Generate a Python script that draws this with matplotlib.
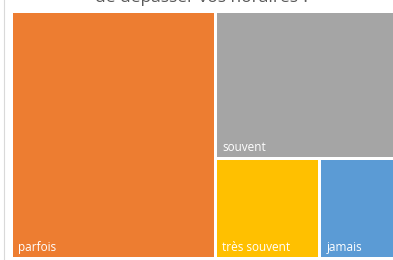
import matplotlib
matplotlib.use("Agg")
from matplotlib import pyplot as plt
from matplotlib.patches import Rectangle
from matplotlib.lines import Line2D

# Data
categories = ["parfois", "souvent", "très souvent", "jamais"]
values = [48, 25, 10, 7]
colors = ["#ED7D31", "#A5A5A5", "#FFC000", "#5B9BD5"]
title = "de dépasser vos horaires ?"


def worst(row, side):
    s = sum(row)
    return max(max(side * side * r / (s * s), (s * s) / (side * side * r)) for r in row)


def squarify(vals, x, y, w, h):
    # vals already scaled to area units
    rects = []
    vals = list(vals)
    while vals:
        side = min(w, h)
        row = [vals.pop(0)]
        while vals and worst(row + [vals[0]], side) <= worst(row, side):
            row.append(vals.pop(0))
        s = sum(row)
        if w >= h:
            rw = s / h
            yy = y + h
            for r in row:
                rh = r / rw
                rects.append((x, yy - rh, rw, rh))
                yy -= rh
            x += rw
            w -= rw
        else:
            rh = s / w
            xx = x
            for r in row:
                rw = r / rh
                rects.append((xx, y + h - rh, rw, rh))
                xx += rw
            h -= rh
    return rects


W, H = 380.0, 244.0
gap = 3.0
total = sum(values)
areas = [v / total * W * H for v in values]
rects = squarify(areas, 0, 0, W, H)

fig = plt.figure(figsize=(3.93, 2.60), dpi=100)
ax = fig.add_axes([13 / 393, 3 / 260, 380 / 393, 244 / 260])
ax.set_xlim(0, W)
ax.set_ylim(0, H)
ax.axis("off")

for (x, y, w, h), lab, c in zip(rects, categories, colors):
    x0 = x + (gap / 2 if x > 0.5 else 0)
    y0 = y + (gap / 2 if y > 0.5 else 0)
    x1 = x + w - (gap / 2 if x + w < W - 0.5 else 0)
    y1 = y + h - (gap / 2 if y + h < H - 0.5 else 0)
    ax.add_patch(Rectangle((x0, y0), x1 - x0, y1 - y0, facecolor=c, edgecolor="none"))
    ax.text(x0 + 5, y0 + 6, lab, color="white", fontsize=8.5, family="Open Sans",
            ha="left", va="baseline")

fig.text(203 / 393, 1 - 2 / 260, title, color="#595959", fontsize=12.5,
         family="Open Sans", ha="center", va="baseline")
fig.add_artist(Line2D([3.5 / 393, 3.5 / 393], [0, 1], color="#D9D9D9", lw=0.8,
                      transform=fig.transFigure))

fig.savefig("out.png", dpi=100)
